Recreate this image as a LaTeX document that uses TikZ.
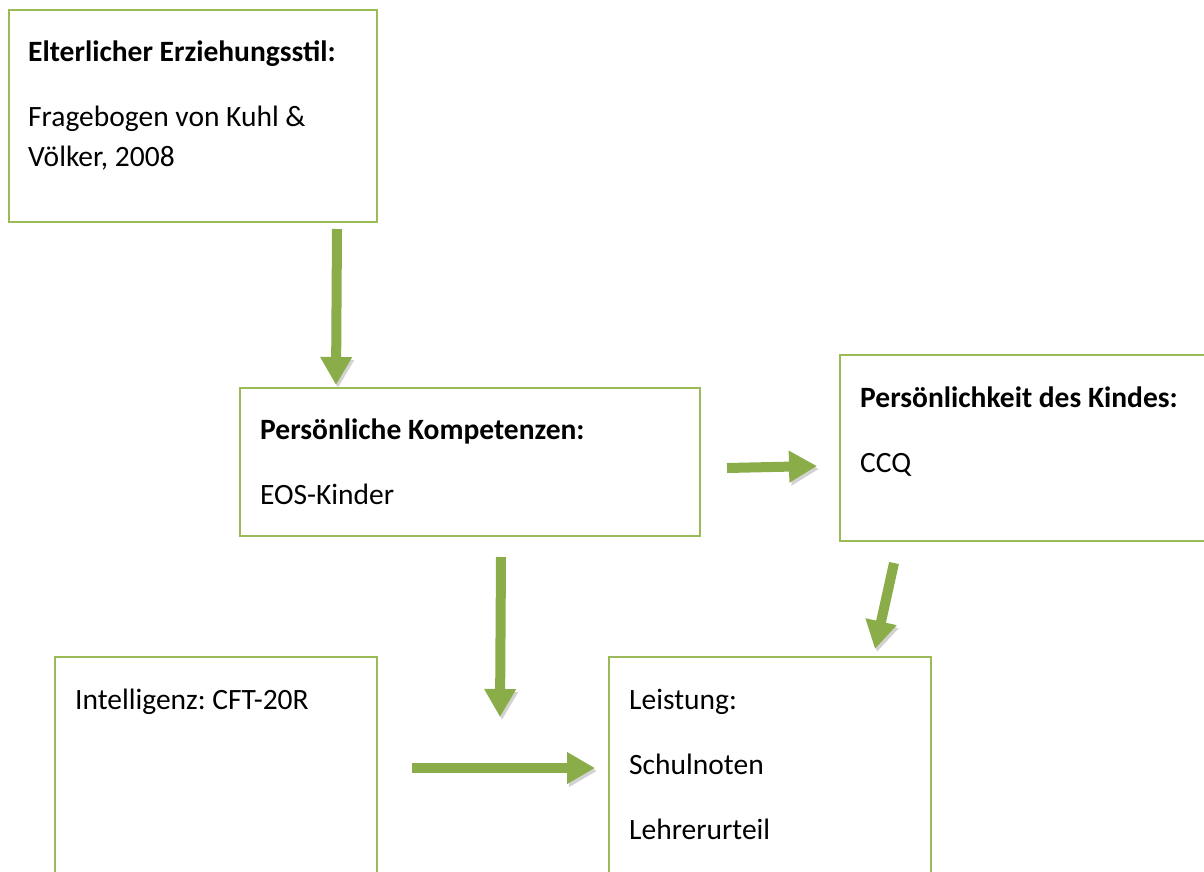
\documentclass[tikz,border=0pt]{standalone}
\usepackage{fontspec}
\setmainfont{Carlito}
\usetikzlibrary{arrows.meta}

\definecolor{rahmengruen}{HTML}{9BBB59}
\definecolor{pfeilgruen}{HTML}{8AAD4A}

\begin{document}
\begin{tikzpicture}[x=1pt,y=-1pt,
    kasten/.style={draw=rahmengruen, line width=2pt, inner sep=0pt},
    beschr/.style={anchor=base west, inner sep=0pt, text width=330pt, align=flush left,
                   font=\fontsize{29.5}{40}\selectfont\frenchspacing},
    pfeil/.style={line width=10pt, draw=pfeilgruen,
                  -{Triangle[length=28pt,width=30pt]},
                  preaction={draw=gray!35, transform canvas={shift={(2,3)}}}}]
            % 1. FESTER RAHMEN (Kästen unten und rechts werden abgeschnitten)
            \path[use as bounding box, clip] (0,0) rectangle (1204,871);

            % --- KÄSTEN ---
            \node[kasten, minimum width=368pt, minimum height=212pt] (A) at (193,116) {};
            \node[kasten, minimum width=460pt, minimum height=148pt] (B) at (470,462) {};
            \node[kasten, minimum width=390pt, minimum height=186pt] (C) at (1035,448) {};
            \node[kasten, minimum width=322pt, minimum height=243pt] (D) at (216,778.5) {};
            \node[kasten, minimum width=322pt, minimum height=243pt] (E) at (770,778.5) {};

            % --- BESCHRIFTUNG ---
            \node[beschr] (tA) at ([shift={(20,52)}]A.north west)
                {\textbf{Elterlicher Erziehungsstil:}\\[25pt]
                 Fragebogen von Kuhl \&\\ Völker, 2008};
            \node[beschr] (tB) at ([shift={(21,52)}]B.north west)
                {\textbf{Persönliche Kompetenzen:}\\[25pt] EOS-Kinder};
            \node[beschr] (tC) at ([shift={(21,53)}]C.north west)
                {\textbf{Persönlichkeit des Kindes:}\\[25pt] CCQ};
            \node[beschr] (tD) at ([shift={(21,53)}]D.north west)
                {Intelligenz: CFT-20R};
            \node[beschr] (tE) at ([shift={(21,53)}]E.north west)
                {Leistung:\\[25pt] Schulnoten\\[25pt] Lehrerurteil};

            % --- PFEILE ---
            \draw[pfeil] ([shift={(144,6)}]A.south) -- ([shift={(-134,-2)}]B.north);
            \draw[pfeil] ([shift={(26,6)}]B.east) -- ([shift={(-22,18)}]C.west);
            \draw[pfeil] ([shift={(-141,21)}]C.south) -- ([shift={(105,-7)}]E.north);
            \draw[pfeil] ([shift={(31,20)}]B.south) -- ([shift={(-108,61)}]E.north west);
            \draw[pfeil] ([shift={(34,-10.5)}]D.east) -- ([shift={(-13,-10.5)}]E.west);

        \end{tikzpicture}
\end{document}
